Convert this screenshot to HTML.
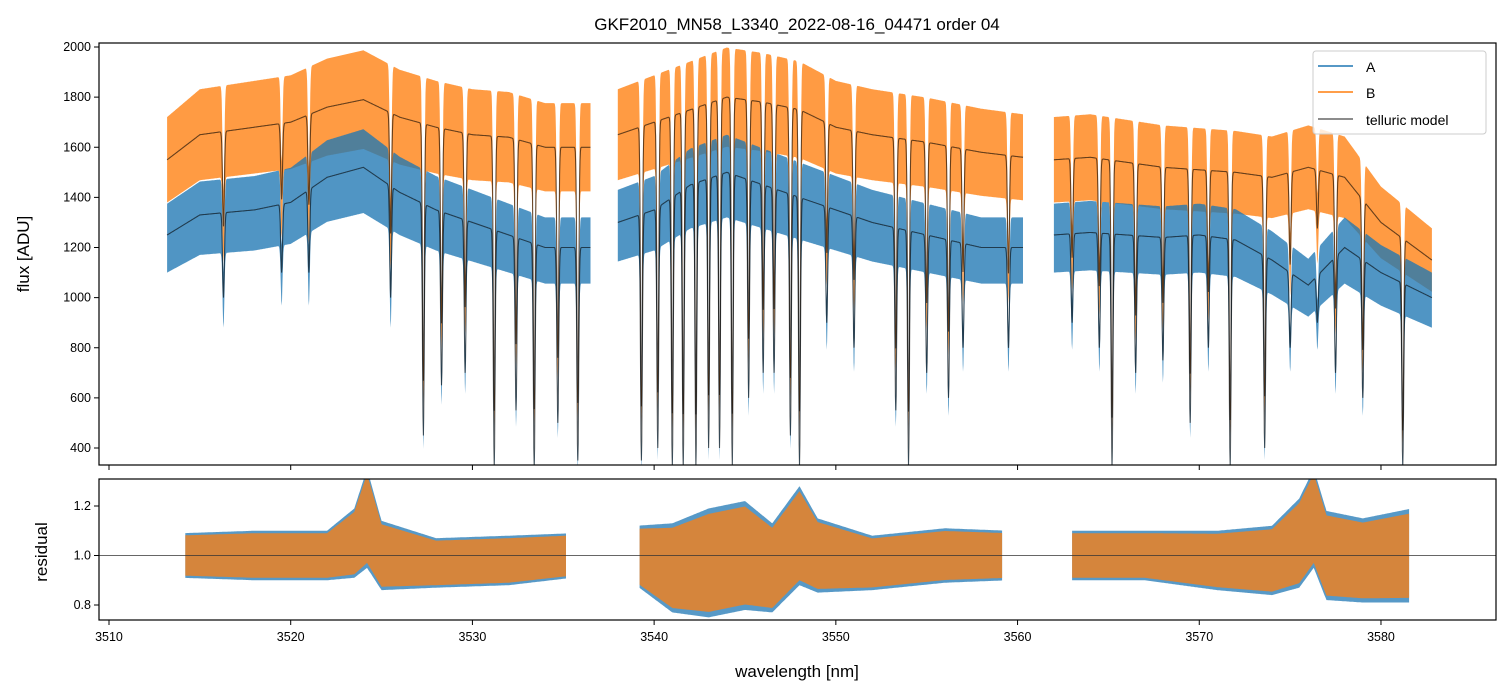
<!DOCTYPE html>
<html><head><meta charset="utf-8"><style>
body{margin:0;background:#fff;}
svg{display:block;font-family:"Liberation Sans","DejaVu Sans",sans-serif;}
</style></head><body>
<svg id="c" width="1510" height="696" xmlns="http://www.w3.org/2000/svg">
<rect width="1510" height="696" fill="#fff"/>
<text x="797" y="30" font-size="17" text-anchor="middle">GKF2010_MN58_L3340_2022-08-16_04471  order 04</text>
<defs>
<clipPath id="clipTop"><rect x="99" y="43" width="1397" height="422"/></clipPath>
<clipPath id="clipBot"><rect x="99" y="479" width="1397" height="141"/></clipPath>
</defs>
<g id="topG" clip-path="url(#clipTop)"></g>
<g id="botG" clip-path="url(#clipBot)"></g>
<g id="axesG"></g>
</svg>
<script>
// ---- data ----
const segments = [[3513.2,3536.5],[3538.0,3560.3],[3562.0,3582.8]];
const contWl = [3513.2,3515,3518,3520,3522,3524,3526,3528,3530,3532,3534,3536.5, 3538,3540,3542,3544,3546,3548,3550,3552,3555,3558,3560.3, 3562,3564,3566,3568,3570,3572,3574,3576,3578,3580,3582.8];
const contB = [1550,1650,1680,1700,1760,1790,1720,1680,1650,1640,1600,1600, 1650,1700,1750,1800,1780,1750,1680,1650,1620,1580,1560, 1550,1560,1540,1520,1510,1500,1480,1520,1480,1300,1150];
const contA = [1250,1330,1350,1380,1480,1520,1420,1350,1300,1250,1200,1200, 1300,1350,1450,1500,1450,1400,1350,1300,1250,1200,1200, 1250,1260,1250,1240,1250,1230,1150,1050,1200,1100,1000];
const lineWl = [3516.3,3519.5,3521,3525.5,3527.3,3528.3,3529.6,3531.2,3532.4,3533.4,3534.7,3535.8, 3539.3,3540.2,3541,3541.6,3542.3,3543,3543.6,3544.3,3545.2,3546,3546.6,3547.5,3548,3549.5,3551,3553.3,3554,3555,3556.2,3557,3559.5, 3563,3564.5,3565.2,3566.5,3568,3569.5,3570.5,3571.7,3573.6,3575,3576.5,3577.5,3579,3581.2];
const lineMinA = [1000,1100,1100,1000,450,650,700,330,550,330,500,350, 350,400,330,330,330,400,400,330,600,700,700,450,330,900,800,550,330,700,600,800,800, 900,800,330,700,750,500,800,330,400,800,900,700,600,330];
const resSegments = [[3514.2,3535.2],[3539.2,3559.2],[3563.0,3581.6]];
const resWl = [3514,3518,3522,3523.5,3524.2,3525,3528,3532,3535.5,3539,3541,3543,3545,3546.5,3548,3549,3552,3556,3559.5,3563,3567,3571,3574,3575.5,3576.3,3577,3579,3581.7];
const resHalfB = [0.09,0.1,0.1,0.14,0.2,0.14,0.1,0.1,0.09,0.12,0.18,0.22,0.22,0.18,0.2,0.15,0.11,0.11,0.1,0.1,0.1,0.12,0.14,0.18,0.2,0.18,0.17,0.19];
const resCenter = [1,1,1,1.05,1.15,1,0.97,0.98,1,1,0.95,0.97,1,0.95,1.08,1,0.97,1,1,1,1,0.98,0.98,1.05,1.15,1,0.98,1];
const yTicksTop = [400,600,800,1000,1200,1400,1600,1800,2000];
const yTicksBot = [0.8,1.0,1.2];
const xTicks = [3510,3520,3530,3540,3550,3560,3570,3580];

// ---- axes ----
const X0=99,X1=1496, WL0=3509.45, WL1=3586.33;
const xs = w => X0 + (w-WL0)/(WL1-WL0)*(X1-X0);
const yTop = v => 448 - (v-400)*(401/1600);
const yBot = v => 555.5 - (v-1.0)*247.5;
const NS="http://www.w3.org/2000/svg";
function mk(tag, attrs, parent){const e=document.createElementNS(NS,tag);for(const k in attrs)e.setAttribute(k,attrs[k]);parent.appendChild(e);return e;}
function interp(xArr,yArr,x){if(x<=xArr[0])return yArr[0];for(let i=1;i<xArr.length;i++){if(x<=xArr[i]){const t=(x-xArr[i-1])/(xArr[i]-xArr[i-1]);return yArr[i-1]+t*(yArr[i]-yArr[i-1]);}}return yArr[yArr.length-1];}
function model(cont,w,scaleMin){let c=interp(contWl,cont,w);let f=1;for(let i=0;i<lineWl.length;i++){const dx=w-lineWl[i];if(Math.abs(dx)>0.3)continue;const d=Math.max(0,1-lineMinA[i]/interp(contWl,contA,lineWl[i]));const g=Math.exp(-Math.pow(dx/0.07,2));f*=1-d*scaleMin*g;}return c*f;}
const topG=document.getElementById('topG'), botG=document.getElementById('botG'), axesG=document.getElementById('axesG');

function band(parent, seg, fn, lo, hi, color, op, name){
  let up=[],dn=[];
  for(let w=seg[0];w<=seg[1];w+=0.02){const m=fn(w);up.push(xs(w).toFixed(1)+','+yTop(m*hi).toFixed(1));dn.unshift(xs(w).toFixed(1)+','+yTop(m*lo).toFixed(1));}
  const p=mk('polygon',{points:up.concat(dn).join(' '),fill:color,'fill-opacity':op},parent);
  
  
}
segments.forEach((s,i)=>{
  band(topG,s,w=>model(contB,w,0.9),0.89,1.11,'#ff7f0e',0.78,'series-b-band');
  band(topG,s,w=>model(contA,w,1),0.88,1.1,'#1f77b4',0.78,'series-a-band');
  ['A','B'].forEach(k=>{
    let pts=[];const c=k==='A'?contA:contB;
    for(let w=s[0];w<=s[1];w+=0.02)pts.push(xs(w).toFixed(1)+','+yTop(model(c,w,k==='A'?1:0.9)).toFixed(1));
    const l=mk('polyline',{points:pts.join(' '),fill:'none',stroke:'#000','stroke-opacity':0.6,'stroke-width':1.1},topG);
    
    
  });
});
// residual bands
resSegments.forEach(s=>{
  [['#1f77b4',0.75,1,'residual-a-band'],['#ff7f0e',0.75,0.9,'residual-b-band']].forEach(([col,op,sc,nm])=>{
    let up=[],dn=[];
    for(let w=s[0];w<=s[1];w+=0.05){const c=interp(resWl,resCenter,w),h=interp(resWl,resHalfB,w)*sc;up.push(xs(w).toFixed(1)+','+yBot(c+h).toFixed(1));dn.unshift(xs(w).toFixed(1)+','+yBot(c-h).toFixed(1));}
    const p=mk('polygon',{points:up.concat(dn).join(' '),fill:col,'fill-opacity':op},botG);
    
    
  });
});
const refL=mk('line',{x1:X0,x2:X1,y1:yBot(1),y2:yBot(1),stroke:'#333','stroke-width':0.8},botG);



// frames
const f1=mk('rect',{x:99,y:43,width:1397,height:422,fill:'none',stroke:'#000','stroke-width':1.2},axesG);


const f2=mk('rect',{x:99,y:479,width:1397,height:141,fill:'none',stroke:'#000','stroke-width':1.2},axesG);


xTicks.forEach(t=>{
  const x=xs(t);
  mk('line',{x1:x,x2:x,y1:465,y2:470,stroke:'#000'},axesG);
  mk('line',{x1:x,x2:x,y1:620,y2:625,stroke:'#000'},axesG);
  const tx=mk('text',{x:x,y:641,'font-size':12.5,'text-anchor':'middle'},axesG);tx.textContent=t;
  
  
});
yTicksTop.forEach(t=>{
  const y=yTop(t);
  mk('line',{x1:94,x2:99,y1:y,y2:y,stroke:'#000'},axesG);
  const tx=mk('text',{x:91,y:y+4,'font-size':12.5,'text-anchor':'end'},axesG);tx.textContent=t;
  
  
});
yTicksBot.forEach(t=>{
  const y=yBot(t);
  mk('line',{x1:94,x2:99,y1:y,y2:y,stroke:'#000'},axesG);
  const tx=mk('text',{x:91,y:y+4,'font-size':12.5,'text-anchor':'end'},axesG);tx.textContent=t.toFixed(1);
  
  
});
</script>
<svg style="position:absolute;left:0;top:0" width="1510" height="696" xmlns="http://www.w3.org/2000/svg">
<text x="797" y="677" font-size="17" text-anchor="middle" font-family="Liberation Sans, sans-serif">wavelength [nm]</text>
<text transform="translate(29,254) rotate(-90)" font-size="17" text-anchor="middle" font-family="Liberation Sans, sans-serif">flux [ADU]</text>
<text transform="translate(47,552) rotate(-90)" font-size="17" text-anchor="middle" font-family="Liberation Sans, sans-serif">residual</text>
<g font-family="Liberation Sans, sans-serif" font-size="14">
<rect x="1313" y="51" width="173" height="83" rx="3" fill="#fff" fill-opacity="0.8" stroke="#ccc"/>
<line x1="1318" x2="1353" y1="66" y2="66" stroke="#1f77b4" stroke-width="1.5"/>
<text x="1366" y="72">A</text>
<line x1="1318" x2="1353" y1="92" y2="92" stroke="#ff7f0e" stroke-width="1.5"/>
<text x="1366" y="98">B</text>
<line x1="1318" x2="1353" y1="119" y2="119" stroke="#666" stroke-width="1.5"/>
<text x="1366" y="125">telluric model</text>
</g>
</svg>
</body></html>
